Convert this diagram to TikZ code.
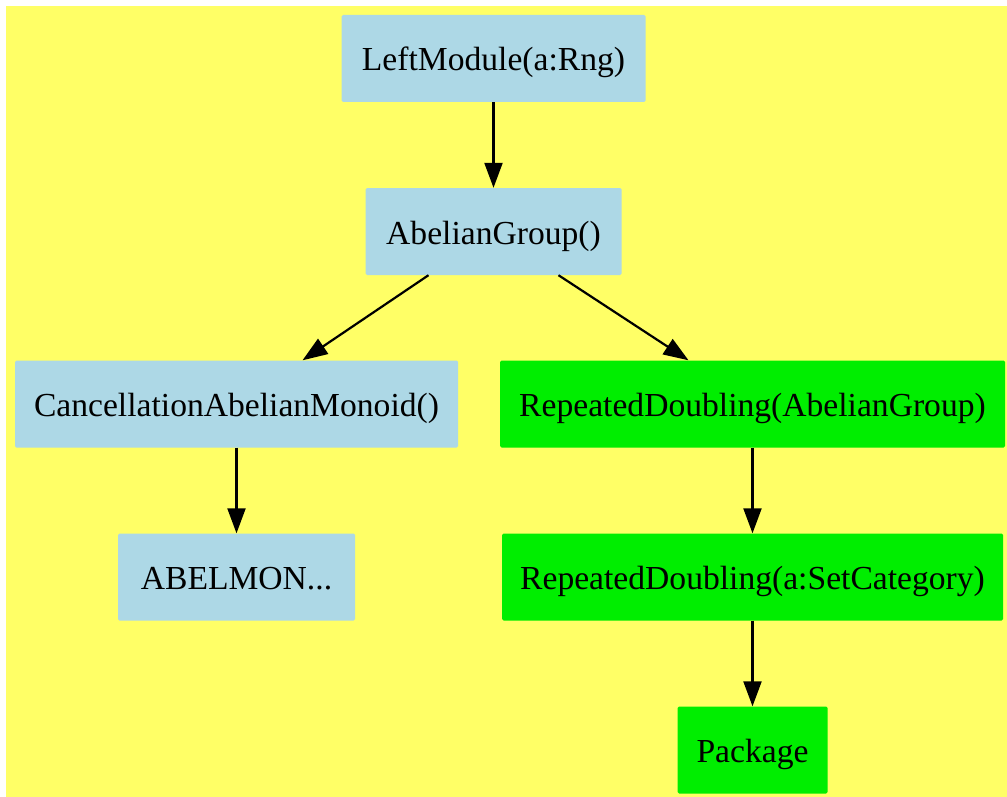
\documentclass[tikz,border=0pt]{standalone}
\usepackage{fontspec}
\setmainfont{Liberation Serif}
\usetikzlibrary{arrows.meta}
\definecolor{bgyellow}{HTML}{FFFF66}
\definecolor{lblue}{HTML}{ADD8E6}
\definecolor{lgreen}{HTML}{00EE00}
\begin{document}
\begin{tikzpicture}[x=1pt,y=-1pt,
  box/.style={rectangle, rounded corners=1.5pt, inner sep=0pt, minimum height=87pt,
    text height=31pt, text depth=6pt,
    font=\fontsize{33.6}{40}\selectfont, text=black},
  bluebox/.style={box, fill=lblue},
  greenbox/.style={box, fill=lgreen},
  edge/.style={draw=black, line width=2.2pt, -{Triangle[length=25pt,width=18pt]}}]
\useasboundingbox (0,0) rectangle (1007,797);
\fill[bgyellow] (6,6) rectangle (1007,797);
\node[bluebox, minimum width=304pt] (lm) at (493.5,58.5) {LeftModule(a:Rng)};
\node[bluebox, minimum width=256pt] (ag) at (493.5,231.5) {AbelianGroup()};
\node[bluebox, minimum width=443pt] (cam) at (236.5,404) {CancellationAbelianMonoid()};
\node[greenbox, minimum width=505pt] (rdag) at (752.5,404) {RepeatedDoubling(AbelianGroup)};
\node[bluebox, minimum width=237pt] (am) at (236.5,577) {ABELMON...};
\node[greenbox, minimum width=501pt] (rdsc) at (752.5,577) {RepeatedDoubling(a:SetCategory)};
\node[greenbox, minimum width=150pt] (pkg) at (752.5,750) {Package};
\draw[edge] (lm.south) -- (ag.north);
\draw[edge] ([xshift=-65pt]ag.south) -- ([xshift=66pt]cam.north);
\draw[edge] ([xshift=65pt]ag.south) -- ([xshift=-64pt]rdag.north);
\draw[edge] (cam.south) -- (am.north);
\draw[edge] (rdag.south) -- (rdsc.north);
\draw[edge] (rdsc.south) -- (pkg.north);
\end{tikzpicture}
\end{document}
